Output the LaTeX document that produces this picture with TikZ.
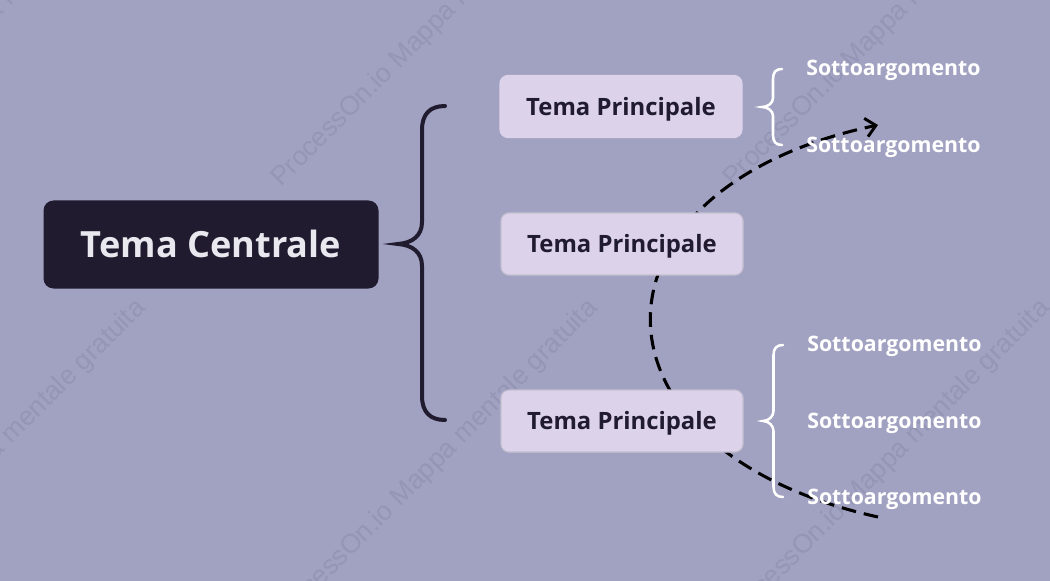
\documentclass[tikz,border=0pt]{standalone}
\usepackage{fontspec}
\setmainfont{Open Sans}
\newfontfamily\wmfont{Liberation Sans}
\usetikzlibrary{arrows.meta}
\definecolor{bgc}{RGB}{161,161,194}
\definecolor{wmc}{RGB}{149,149,182}
\definecolor{darkc}{RGB}{32,27,47}
\definecolor{tpfill}{RGB}{220,211,235}
\definecolor{tpborder}{RGB}{196,191,208}
\definecolor{ctext}{RGB}{232,232,238}
\tikzset{
  central/.style={fill=darkc, rounded corners=7.5pt, minimum width=251.25pt, minimum height=66pt,
    text=ctext, font=\bfseries\fontsize{27.1}{30}\selectfont, inner sep=0pt,
    text height=19.4pt, text depth=0pt},
  maintopic/.style={fill=tpfill, draw=tpborder, line width=0.9pt, rounded corners=6pt, minimum width=181.5pt,
    minimum height=46.5pt, text=darkc, font=\bfseries\fontsize{17.9}{20}\selectfont, inner sep=0pt,
    text height=12.8pt, text depth=0pt},
  subtopic/.style={anchor=west, text=white, font=\bfseries\fontsize{16}{18}\selectfont, inner sep=0pt,
    text height=11.4pt, text depth=0pt},
  darkbrace/.style={draw=darkc, line width=3pt, line cap=round},
  whitebrace/.style={draw=white, line width=1.9pt, line cap=round},
  dashlink/.style={draw=black, line width=2.3pt, dash pattern=on 11pt off 6pt,
    -{Straight Barb[length=7.5pt,width=14pt,line width=2.2pt]}},
  watermark/.style={rotate=45, anchor=base west, text=wmc, font=\wmfont\fontsize{20}{22}\selectfont, inner sep=0pt}
}
\begin{document}
\begin{tikzpicture}[x=0.75pt,y=-0.75pt]
\useasboundingbox (0,0) rectangle (1050,581);
\clip (0,0) rectangle (1050,581);
\fill[bgc] (0,0) rectangle (1050,581);
% watermarks
\foreach \i/\wx/\wy in {1/-171/188, 2/281/188, 3/733/188, 4/-170/626, 5/282/626, 6/734/626}
  \node[watermark] (wm\i) at (\wx,\wy) {ProcessOn.io Mappa mentale gratuita};
% dashed relation arrow (behind nodes)
\coordinate (relA) at (878,517);
\coordinate (relB) at (878,125);
\draw[dashlink] (relA) .. controls (575,450) and (575,189) .. (relB);
% central topic
\node[central] (center) at (211,244.5) {Tema Centrale};
% dark brace
\coordinate (bt) at (445,106);
\coordinate (bb) at (445,420);
\draw[darkbrace] (bt) .. controls (430,106) and (422,114) .. (422,130) -- (422,222)
  .. controls (422,236) and (412,243) .. (398,244)
  .. controls (412,245) and (422,252) .. (422,266) -- (422,396)
  .. controls (422,412) and (430,420) .. (bb);
% main topics
\node[maintopic, draw=tpfill] (t1) at (621,106.5) {Tema Principale};
\node[maintopic] (t2) at (622,244) {Tema Principale};
\node[maintopic] (t3) at (622,421) {Tema Principale};
% white braces
\draw[whitebrace] (782,69) .. controls (776,69) and (773,72) .. (773,79) -- (773,98)
  .. controls (773,103) and (768,107) .. (762,107)
  .. controls (768,107) and (773,111) .. (773,116) -- (773,135)
  .. controls (773,142) and (776,145) .. (782,145);
\draw[whitebrace] (783,345) .. controls (777,345) and (773.5,348) .. (773.5,355) -- (773.5,411)
  .. controls (773.5,416) and (769,421) .. (763,421)
  .. controls (769,421) and (773.5,426) .. (773.5,431) -- (773.5,487)
  .. controls (773.5,494) and (777,497) .. (783,497);
% subtopics
\node[subtopic] (s1) at (806,68) {Sottoargomento};
\node[subtopic] (s2) at (806,145) {Sottoargomento};
\node[subtopic] (s3) at (807,344) {Sottoargomento};
\node[subtopic] (s4) at (807,421) {Sottoargomento};
\node[subtopic] (s5) at (807,497) {Sottoargomento};
\end{tikzpicture}
\end{document}
